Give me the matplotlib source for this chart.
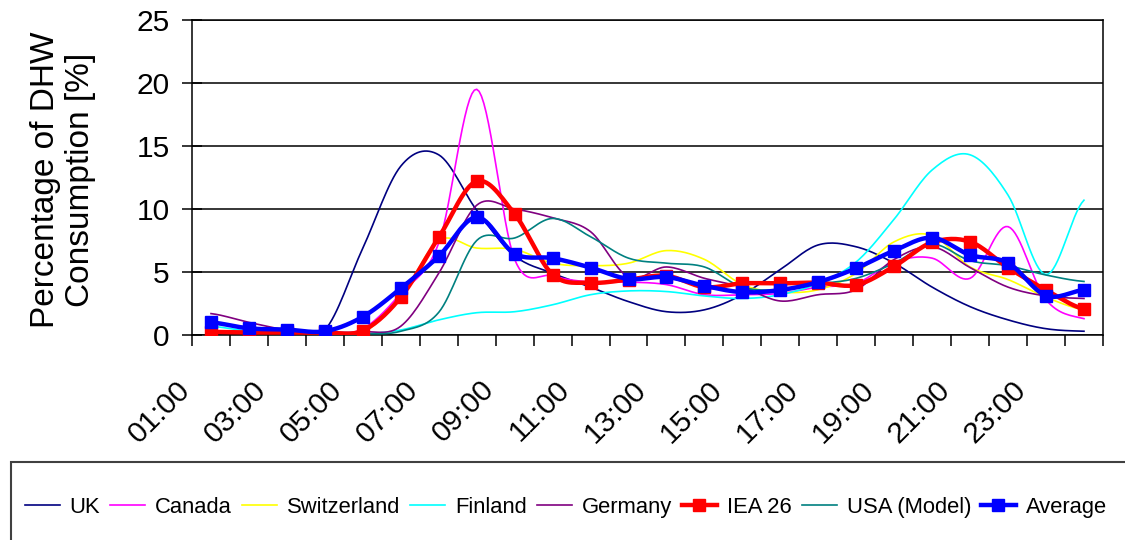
import numpy as np
import matplotlib
matplotlib.use("Agg")
import matplotlib.pyplot as plt
from matplotlib.patches import Rectangle
from matplotlib.transforms import ScaledTranslation

plt.rcParams['font.family'] = ['Liberation Sans', 'DejaVu Sans']

# hourly values, 01:00 ... 24:00
hours = ['%02d:00' % h for h in range(1, 25)]

uk = [0.9, 0.6, 0.35, 0.4, 6.9, 13.4, 14.3, 9.9, 6.3, 4.9, 3.8, 2.65,
      1.85, 2.0, 3.2, 5.2, 7.15, 7.0, 5.7, 3.8, 2.25, 1.2, 0.5, 0.3]
canada = [0.3, 0.2, 0.15, 0.1, 0.5, 3.3, 7.3, 19.5, 6.0, 4.7, 4.2, 4.2,
          4.0, 3.2, 3.2, 3.3, 3.8, 4.1, 5.8, 6.1, 4.5, 8.6, 2.8, 1.3]
switzerland = [0.3, 0.2, 0.15, 0.1, 0.2, 3.0, 7.5, 6.9, 6.8, 5.7, 5.5, 5.7,
               6.7, 6.0, 4.0, 3.4, 3.6, 4.9, 7.4, 7.9, 5.4, 4.4, 3.0, 2.0]
finland = [0.7, 0.3, 0.2, 0.1, 0.1, 0.4, 1.2, 1.77, 1.85, 2.4, 3.2, 3.5,
           3.45, 3.1, 2.9, 3.2, 4.1, 5.8, 9.2, 13.1, 14.3, 11.1, 4.8, 10.7]
germany = [1.7, 1.0, 0.4, 0.25, 0.25, 0.7, 4.9, 10.3, 10.0, 9.3, 8.2, 4.6,
           5.4, 4.5, 3.8, 2.7, 3.2, 3.6, 6.0, 7.0, 5.35, 3.8, 3.1, 2.9]
iea26 = [0.25, 0.2, 0.2, 0.2, 0.35, 3.0, 7.75, 12.2, 9.6, 4.8, 4.15, 4.4,
         4.7, 3.8, 4.1, 4.1, 4.15, 3.97, 5.45, 7.35, 7.4, 5.35, 3.57, 2.06]
usa = [1.0, 0.5, 0.3, 0.2, 0.1, 0.3, 1.8, 7.5, 7.7, 9.25, 7.8, 6.1,
       5.7, 5.4, 3.8, 3.6, 4.05, 4.5, 5.7, 7.2, 5.9, 5.5, 4.76, 4.25]
average = [1.0, 0.53, 0.43, 0.3, 1.45, 3.7, 6.25, 9.35, 6.45, 6.1, 5.35, 4.45,
           4.6, 3.9, 3.4, 3.57, 4.2, 5.3, 6.7, 7.72, 6.35, 5.72, 3.13, 3.57]

N_SUB = 16  # points per segment for the smoothed (Excel-like) lines


def smooth(y, n=N_SUB):
    """Catmull-Rom curve through the hourly points, like Excel 'smoothed line'."""
    y = np.asarray(y, dtype=float)
    p = np.concatenate([[y[0]], y, [y[-1]]])
    t = np.linspace(0, 1, n, endpoint=False)
    h00 = 2 * t**3 - 3 * t**2 + 1
    h10 = t**3 - 2 * t**2 + t
    h01 = -2 * t**3 + 3 * t**2
    h11 = t**3 - t**2
    xs, ys = [], []
    for i in range(len(y) - 1):
        m1 = (p[i + 2] - p[i]) / 2
        m2 = (p[i + 3] - p[i + 1]) / 2
        ys.append(h00 * p[i + 1] + h10 * m1 + h01 * p[i + 2] + h11 * m2)
        xs.append(i + t)
    xs.append([len(y) - 1])
    ys.append([y[-1]])
    return np.concatenate(xs) + 0.5, np.concatenate(ys)


fig = plt.figure(figsize=(11.25, 5.4), dpi=100)
ax = fig.add_axes([0.1707, 0.3796, 0.8097, 0.5834])

series = [
    ('UK', uk, '#000080', 1.2, None, 2),
    ('Canada', canada, '#FF00FF', 1.2, None, 2),
    ('Switzerland', switzerland, '#FFFF00', 1.2, None, 2),
    ('Finland', finland, '#00FFFF', 1.2, None, 2),
    ('Germany', germany, '#800080', 1.2, None, 2),
    ('IEA 26', iea26, '#FF0000', 3.2, 's', 4),
    ('USA (Model)', usa, '#008080', 1.2, None, 3),
    ('Average', average, '#0000FF', 3.2, 's', 5),
]

handles = []
for name, vals, color, lw, marker, z in series:
    xs, ys = smooth(vals)
    line, = ax.plot(xs, ys, color=color, lw=lw, marker=marker, markersize=8,
                    markevery=N_SUB, label=name, zorder=z,
                    solid_joinstyle='round')
    handles.append(line)

ax.set_xlim(0, 24)
ax.set_ylim(0, 25)
ax.set_yticks(range(0, 26, 5))
ax.grid(axis='y', color='black', lw=1.1)
ax.set_axisbelow(True)

ax.set_xticks(range(0, 25))
ax.set_xticklabels([hours[k] if k % 2 == 0 and k < 24 else '' for k in range(25)],
                   rotation=45, ha='right', va='top')
ax.tick_params(axis='x', direction='out', length=8, width=1.1, pad=21,
               labelsize=21.5)
ax.tick_params(axis='y', direction='inout', length=14, width=1.1, pad=9,
               labelsize=21.5)
shift = ScaledTranslation(4 / 100, 0, fig.dpi_scale_trans)
for lab in ax.get_xticklabels():
    lab.set_transform(lab.get_transform() + shift)
for s in ax.spines.values():
    s.set_color('black')
    s.set_linewidth(1.1)

fig.text(0.056, 0.667, 'Percentage of DHW\nConsumption [%]', rotation=90,
         ha='center', va='center', fontsize=24, linespacing=1.2,
         multialignment='center')

fig.legend(handles=handles, loc='center', bbox_to_anchor=(0.503, 0.061),
           ncol=8, frameon=False, fontsize=15.8, handlelength=1.6,
           handletextpad=0.45, columnspacing=0.45)
fig.patches.append(Rectangle((0.0098, -0.05), 1.0, 0.1944,
                             transform=fig.transFigure, fill=False,
                             lw=1.5, edgecolor='#404040'))

fig.savefig('out.png', dpi=100)
